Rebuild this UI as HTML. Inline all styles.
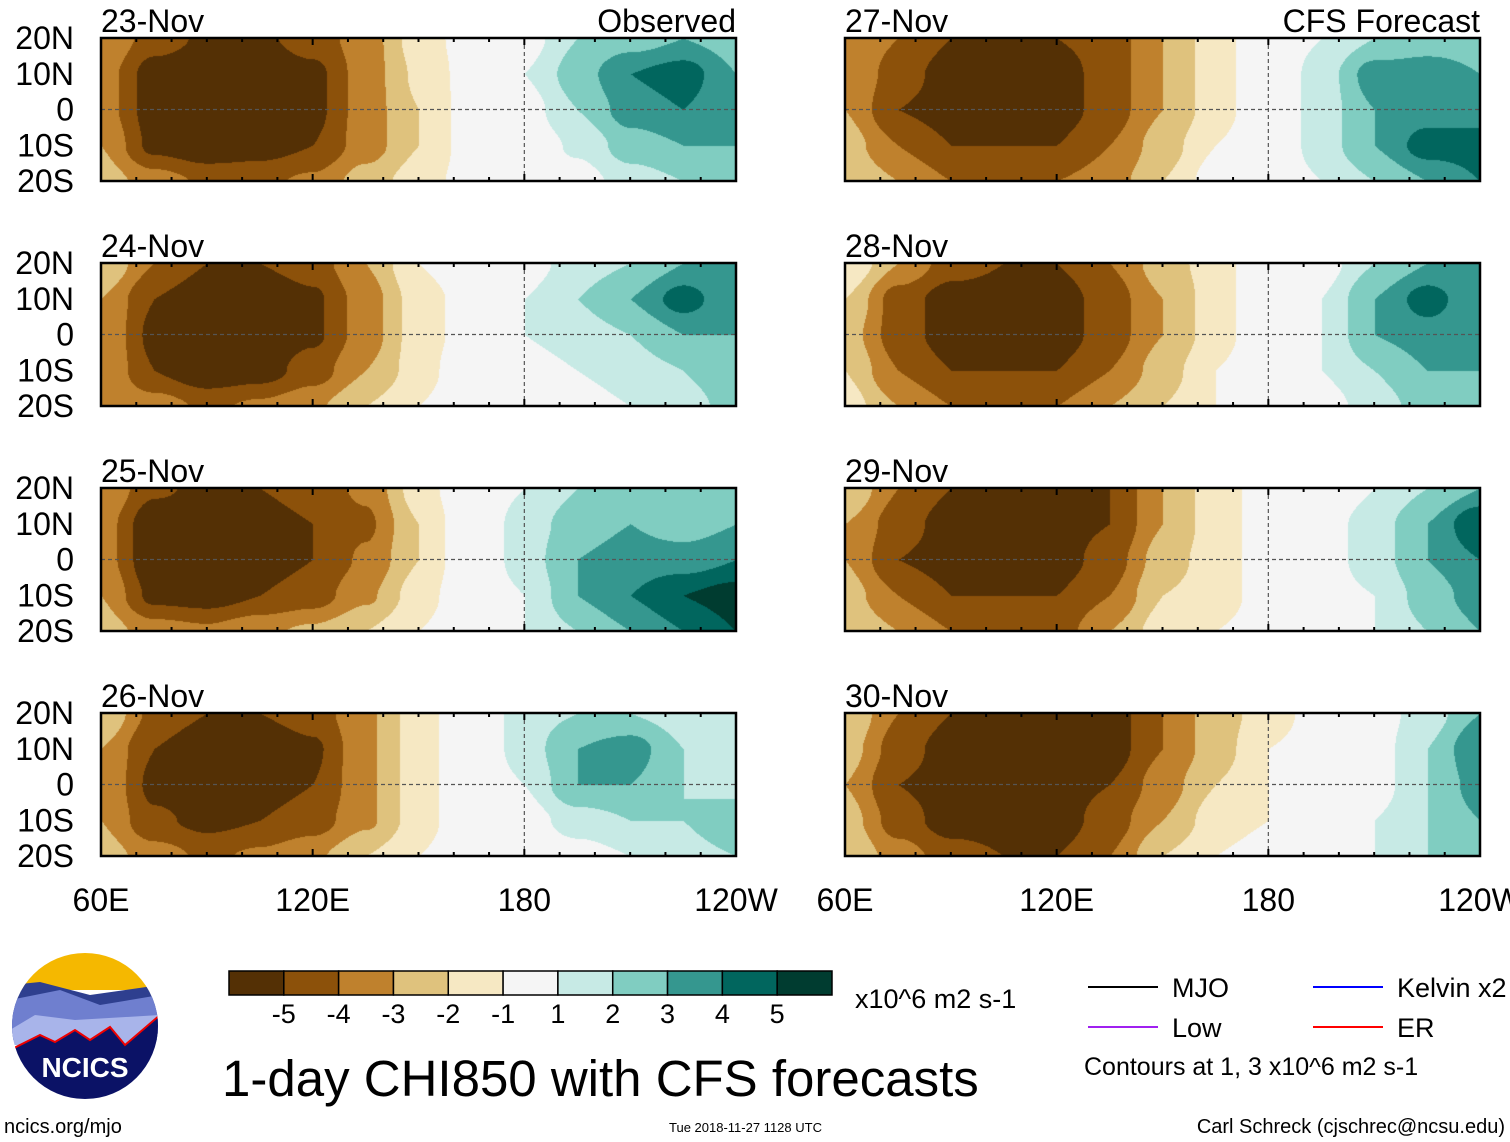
<!DOCTYPE html>
<html><head><meta charset="utf-8">
<style>
body{margin:0;background:#fff;width:1510px;height:1142px;overflow:hidden;position:relative;font-family:"Liberation Sans",sans-serif;}
canvas{position:absolute;}
</style></head><body>
<svg id="svg" width="1510" height="1142" style="position:absolute;left:0;top:0"></svg>
<script>
// ---- data ----
const lonPoints=[60,75,90,105,120,135,150,165,180,195,210,225,240];
const latPoints=[20,10,0,-10,-20];
const panelDates=["23-Nov","24-Nov","25-Nov","26-Nov","27-Nov","28-Nov","29-Nov","30-Nov"];
const levelTicks=[-5,-4,-3,-2,-1,1,2,3,4,5];
const levelColors=["#543005","#8c510a","#bf812d","#dfc27d","#f6e8c3","#f5f5f5","#c7eae5","#80cdc1","#35978f","#01665e","#003c30"];
const latTickLabels=["20N","10N","0","10S","20S"];
const lonTickLabels=["60E","120E","180","120W"];
const lonTicks=[60,120,180,240];
const f23=[[-3,-4.5,-5.2,-5.2,-4.5,-3.5,-1.5,-0.5,0.5,2,2.5,3,2.5],[-3.5,-5.5,-5.8,-5.8,-5.3,-3.5,-1.8,-0.5,1,2.5,4,4.5,3],[-3.5,-5.5,-5.8,-5.8,-5.3,-3.5,-2,-0.5,0.5,2,3.5,4,3],[-3,-5.3,-5.8,-5.5,-5,-3.5,-2,-0.5,0.2,1.2,2.5,3,3],[-2.5,-3.5,-4.2,-4.2,-3.8,-2.5,-1.5,-0.5,0,0.5,1.5,2,2.5]];
const f24=[[-2,-4,-5,-5,-4.5,-3,-1,0,0.5,1.5,2,3,3],[-3,-5,-5.8,-5.8,-5.2,-3.5,-1.5,-0.5,1,2,3,4.5,3],[-3,-5.3,-5.8,-5.8,-5.2,-3.5,-1.5,-0.5,1,1.5,2,3,3],[-3,-5,-5.8,-5.5,-4.5,-3,-1.5,0,0.5,1,1.5,2,3],[-3,-3.5,-4.2,-3.8,-3.2,-2,-1,0,0,0.5,1,1.5,2.5]];
const f25=[[-3,-4.8,-5.3,-5,-4.5,-3.8,-1.5,0,1,2,3,2.5,2.5],[-3.5,-5.8,-5.8,-5.5,-5,-4.2,-2,0,1.5,2.5,3,2.5,3],[-3.5,-5.8,-5.8,-5.5,-5,-3.8,-2,0,1.5,3,3.5,3.5,4],[-3,-5.3,-5.5,-5,-4.5,-3.2,-1.5,0,1,3,4,5,5.5],[-2.5,-3.5,-3.8,-3.2,-2.8,-2,-1,0,1,2,3,4,5]];
const f26=[[-2,-4.3,-5,-5,-4.5,-3.2,-1.5,0,1.5,2,2,1.5,1],[-3,-5,-5.8,-5.8,-5.2,-3.2,-1.5,0,1.5,3,3.5,2,1.5],[-3,-5.3,-5.8,-5.5,-5,-3.2,-1.5,0,1,3,3,2,1.5],[-3,-4.8,-5.3,-5,-4.5,-3.2,-1.5,0,0.5,1.5,2,2,3],[-2.5,-3.5,-4.2,-3.8,-3.2,-2,-1,0,0,0.5,1,1.5,2]];
const f27=[[-3,-4,-5,-5,-5,-4.5,-3,-1.5,0,1,2,2.5,2.5],[-3,-4.5,-5.5,-5.5,-5.5,-4.5,-3,-1.5,0,1.5,3.5,3.5,3],[-3,-5,-5.5,-5.5,-5.5,-4.5,-3,-1.5,0,1.5,3,3.5,3.5],[-2.5,-4,-5,-5,-5,-4,-2.5,-1,0,1.5,3,4.5,4.5],[-2,-3,-4,-4,-4,-3.5,-2,-0.5,0,1,2,3,4]];
const f28=[[-1,-3,-4.5,-5,-5,-4,-2.5,-1.5,0,0.5,2,3,3],[-2,-4.5,-5.5,-5.5,-5.5,-4.5,-3,-1.5,0,1,3,4.5,3],[-2.5,-4.5,-5.5,-5.5,-5.5,-4.5,-3,-1.5,0,1,3,3.5,3],[-2,-4,-5,-5,-5,-4,-2.5,-1,0,1,2,3,3],[-1.5,-3,-4,-4,-4,-3,-2,-1,0,0.5,1.5,2.5,3]];
const f29=[[-2,-4,-5,-5.5,-5.5,-5,-3,-1.5,-0.5,0,1,2,3],[-3,-4.5,-5.5,-5.5,-5.5,-5,-3,-1.5,-0.5,0.5,1.5,3,5],[-3,-5,-5.5,-5.5,-5.5,-4.5,-2.5,-1.5,-0.5,0.5,1.5,3,4],[-2.5,-4,-5,-5,-5,-4,-2,-1.5,-0.5,0.5,1,2.5,3.5],[-2,-3,-4,-4.5,-4.5,-3,-1.5,-1,-0.5,0.5,1,2,3]];
const f30=[[-2,-4,-5,-5.5,-5.5,-5.5,-4,-2.5,-1.5,-0.5,0.5,1.5,3],[-2.5,-4.5,-5.5,-5.5,-5.5,-5.5,-4,-2.5,-1,-0.5,0.5,2,4],[-3,-5,-5.5,-5.5,-5.5,-5,-3.5,-2,-1,0,0.5,2,3.5],[-2.5,-4.5,-5.5,-5.5,-5.5,-4.5,-3,-1.5,-1,0,1,2,3],[-2,-3.5,-4.5,-5,-5,-4,-2,-1,-0.5,0.5,1,2,3]];
const fields=[f23,f24,f25,f26,f27,f28,f29,f30];

// ---- layout ----
const NS="http://www.w3.org/2000/svg";
const svg=document.getElementById('svg');
const colX=[101,845], rowY=[38,263,488,713], PW=635, PH=143;
function xOf(lon,x0){return x0+(lon-60)/180*PW;}
function yOf(lat,y0){return y0+(20-lat)/40*PH;}
function colorOf(v){let i=0;while(i<levelTicks.length&&v>=levelTicks[i])i++;return levelColors[i];}
function hex(c){return [parseInt(c.substr(1,2),16),parseInt(c.substr(3,2),16),parseInt(c.substr(5,2),16)];}
function sample(f,lon,lat){
  let fi=(lon-60)/15, fj=(20-lat)/10;
  let i=Math.min(11,Math.max(0,Math.floor(fi))), j=Math.min(3,Math.max(0,Math.floor(fj)));
  let a=fi-i,b=fj-j;
  a=a*a*(3-2*a);b=b*b*(3-2*b);
  return f[j][i]*(1-a)*(1-b)+f[j][i+1]*a*(1-b)+f[j+1][i]*(1-a)*b+f[j+1][i+1]*a*b;
}
function mk(tag,attrs,parent){const e=document.createElementNS(NS,tag);for(const k in attrs)e.setAttribute(k,attrs[k]);(parent||svg).appendChild(e);return e;}
function txt(s,x,y,size,anchor,parent){const e=mk('text',{x:x,y:y,'font-size':size,'text-anchor':anchor||'start','font-family':'Liberation Sans, sans-serif',fill:'#000'},parent);e.textContent=s;return e;}

fields.forEach((f,p)=>{
  const x0=colX[Math.floor(p/4)], y0=rowY[p%4];
  const cv=document.createElement('canvas');cv.width=PW;cv.height=PH;
  cv.style.left=x0+'px';cv.style.top=y0+'px';
  
  
  document.body.insertBefore(cv,svg);
  const ctx=cv.getContext('2d');const img=ctx.createImageData(PW,PH);
  for(let y=0;y<PH;y++)for(let x=0;x<PW;x++){
    const lon=60+x/PW*180, lat=20-y/PH*40;
    const c=hex(colorOf(sample(f,lon,lat)));const k=(y*PW+x)*4;
    img.data[k]=c[0];img.data[k+1]=c[1];img.data[k+2]=c[2];img.data[k+3]=255;
  }
  ctx.putImageData(img,0,0);
  const g=mk('g',{});
  
  
  mk('line',{x1:x0,x2:x0+PW,y1:yOf(0,y0),y2:yOf(0,y0),stroke:'#555','stroke-width':1.2,'stroke-dasharray':'4,3'},g);
  mk('line',{x1:xOf(180,x0),x2:xOf(180,x0),y1:y0,y2:y0+PH,stroke:'#555','stroke-width':1.2,'stroke-dasharray':'4,3'},g);
  mk('rect',{x:x0,y:y0,width:PW,height:PH,fill:'none',stroke:'#000','stroke-width':2.5},g);
  for(let lon=60;lon<=240;lon+=10){const len=lon%60==0?7:4;const xx=xOf(lon,x0);
    mk('line',{x1:xx,x2:xx,y1:y0,y2:y0+len,stroke:'#000','stroke-width':2},g);
    mk('line',{x1:xx,x2:xx,y1:y0+PH,y2:y0+PH-len,stroke:'#000','stroke-width':2},g);}
  const d=txt(panelDates[p],x0,y0-6,32,'start',g);
  
  if(p==0)txt('Observed',x0+PW,y0-6,32,'end',g);
  if(p==4)txt('CFS Forecast',x0+PW,y0-6,32,'end',g);
  if(x0==101){latPoints.forEach((la,i)=>{txt(latTickLabels[i],74,yOf(la,y0)+11,32,'end',g);});}
});
[0,1].forEach(c=>{lonTicks.forEach((lo,i)=>{const e=txt(lonTickLabels[i],xOf(lo,colX[c]),911,32,'middle');});});

// colorbar
const cb=mk('g',{});
const cbx=229,cbw=603/levelColors.length;
levelColors.forEach((c,i)=>mk('rect',{x:cbx+i*cbw,y:971,width:cbw,height:24,fill:c,stroke:'#000','stroke-width':1.5},cb));
levelTicks.forEach((t,i)=>txt(String(t),cbx+(i+1)*cbw,1023,27,'middle',cb));
txt('x10^6 m2 s-1',855,1008,27,'start');
const ti=txt('1-day CHI850 with CFS forecasts',222,1096,51,'start');
// legend
const lg=mk('g',{});
[['MJO','#000',1088,987],['Low','#a020f0',1088,1027],['Kelvin x2','#0000ff',1313,987],['ER','#ff0000',1313,1027]].forEach(l=>{
  mk('line',{x1:l[2],x2:l[2]+70,y1:l[3],y2:l[3],stroke:l[1],'stroke-width':2},lg);
  txt(l[0],l[2]+84,l[3]+10,27,'start',lg);});
txt('Contours at 1, 3 x10^6 m2 s-1',1084,1075,25,'start');
txt('ncics.org/mjo',4,1133,20,'start');
txt('Tue 2018-11-27 1128 UTC',669,1132,13,'start');
txt('Carl Schreck (cjschrec@ncsu.edu)',1505,1133,20,'end');
// logo
const lo=mk('g',{});
const cpth=mk('clipPath',{id:'lc'},lo);
mk('circle',{cx:85,cy:1026,r:73},cpth);
const lg2=mk('g',{'clip-path':'url(#lc)'},lo);
mk('rect',{x:10,y:950,width:150,height:40,fill:'#f5b800'},lg2);
mk('path',{d:'M10 985 L40 982 L90 995 L160 985 L160 1040 L10 1040Z',fill:'#2e3f8f'},lg2);
mk('path',{d:'M10 1000 L60 990 L100 1005 L160 995 L160 1040 L10 1040Z',fill:'#6f7fcf'},lg2);
mk('path',{d:'M10 1030 L35 1015 L75 1020 L160 1015 L160 1045 L10 1045Z',fill:'#a8b4ea'},lg2);
mk('path',{d:'M10 1050 L40 1035 L55 1042 L75 1030 L90 1040 L110 1027 L125 1045 L160 1015 L160 1110 L10 1110Z',fill:'#0b1266',stroke:'#e00','stroke-width':2},lg2);
const nt=txt('NCICS',85,1077,28,'middle',lo);nt.setAttribute('fill','#fff');nt.setAttribute('font-weight','bold');
</script>
</body></html>
